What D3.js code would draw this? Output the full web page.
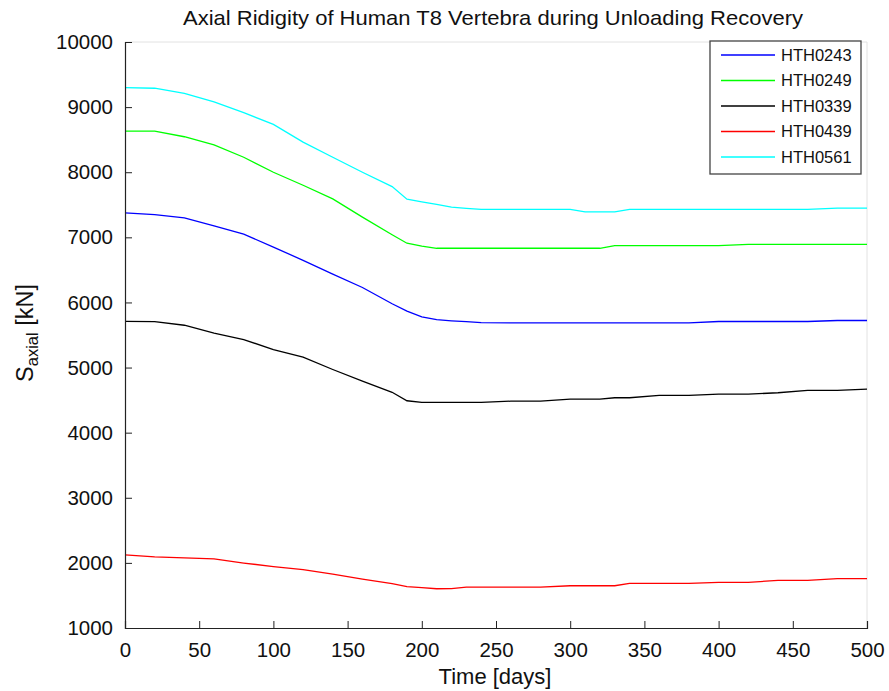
<!DOCTYPE html>
<html>
<head>
<meta charset="utf-8">
<script src="https://cdn.jsdelivr.net/npm/d3@7"></script>
<style>
  body { margin: 0; background: #fff; }
  svg { display: block; font-family: "Liberation Sans", Arial, sans-serif; }
</style>
</head>
<body>
<svg id="chart" width="889" height="691"></svg>
<script>
// sample days, shared by all specimens
const days = [0, 20, 40, 60, 80, 100, 120, 140, 160, 180, 190, 200, 210, 220, 230, 240,
              260, 280, 300, 310, 320, 330, 340, 360, 380, 400, 420, 440, 460, 480, 500];

const hth0243 = [7375, 7350, 7300, 7175, 7050, 6850, 6647, 6435, 6230, 5980, 5866, 5780, 5735, 5718, 5705, 5690,
                 5686, 5686, 5686, 5686, 5686, 5686, 5686, 5686, 5686, 5707, 5707, 5707, 5707, 5723, 5723];
const hth0249 = [8630, 8630, 8545, 8420, 8230, 8000, 7800, 7590, 7310, 7040, 6910, 6865, 6832, 6832, 6832, 6832,
                 6832, 6832, 6832, 6832, 6832, 6872, 6872, 6872, 6872, 6872, 6893, 6893, 6893, 6893, 6893];
const hth0339 = [5710, 5705, 5650, 5530, 5430, 5276, 5160, 4970, 4790, 4620, 4490, 4464, 4464, 4464, 4464, 4464,
                 4484, 4484, 4515, 4515, 4515, 4536, 4536, 4572, 4572, 4592, 4592, 4613, 4649, 4649, 4669];
const hth0439 = [2124, 2093, 2077, 2062, 1998, 1943, 1895, 1828, 1750, 1680, 1636, 1620, 1603, 1605, 1629, 1629,
                 1629, 1629, 1649, 1649, 1649, 1649, 1686, 1686, 1686, 1701, 1701, 1732, 1732, 1758, 1758];
const hth0561 = [9300, 9290, 9210, 9080, 8915, 8735, 8462, 8230, 8000, 7780, 7585, 7545, 7505, 7465, 7445, 7430,
                 7430, 7430, 7430, 7392, 7392, 7392, 7430, 7430, 7430, 7430, 7430, 7430, 7430, 7450, 7450];

const names = ["HTH0243", "HTH0249", "HTH0339", "HTH0439", "HTH0561"];
const colors = ["#0000ff", "#00ff00", "#000000", "#ff0000", "#00ffff"];
const xTicks = [0, 50, 100, 150, 200, 250, 300, 350, 400, 450, 500];
const yTicks = [1000, 2000, 3000, 4000, 5000, 6000, 7000, 8000, 9000, 10000];

const series = [hth0243, hth0249, hth0339, hth0439, hth0561].map((vals, i) => ({
    name: names[i],
    color: colors[i],
    points: days.map((d, j) => [d, vals[j]])
}));

const width = 889, height = 691;
const margin = { top: 42, right: 22, bottom: 63, left: 125 };

const svg = d3.select("#chart");

const x = d3.scaleLinear().domain([0, 500]).range([margin.left, width - margin.right]);
const y = d3.scaleLinear().domain([1000, 10000]).range([height - margin.bottom, margin.top]);

// faint top / right box edges
svg.append("path")
    .attr("d", `M${x(0)},${y(10000)}H${x(500)}V${y(1000)}`)
    .attr("fill", "none")
    .attr("stroke", "#e2e2e2");

const line = d3.line()
    .x(d => x(d[0]))
    .y(d => y(d[1]));

svg.append("g")
    .selectAll("path")
    .data(series)
    .join("path")
      .attr("fill", "none")
      .attr("stroke", d => d.color)
      .attr("stroke-width", 1.3)
      .attr("d", d => line(d.points));

// axes with inward ticks
const xAxis = svg.append("g")
    .attr("transform", `translate(0,${y(1000)})`)
    .call(d3.axisBottom(x).tickValues(xTicks).tickSize(-7).tickPadding(14).tickFormat(d3.format("d")));

const yAxis = svg.append("g")
    .attr("transform", `translate(${x(0)},0)`)
    .call(d3.axisLeft(y).tickValues(yTicks).tickSize(-7).tickPadding(12).tickFormat(d3.format("d")));

for (const ax of [xAxis, yAxis]) {
    ax.select(".domain").attr("stroke", "#222").attr("stroke-width", 1.2);
    ax.selectAll(".tick line").attr("stroke", "#222");
    ax.selectAll("text")
        .attr("font-family", "Liberation Sans, Arial, sans-serif")
        .attr("font-size", 20.5)
        .attr("fill", "#111");
}
xAxis.selectAll("text").attr("dy", "0.71em");

svg.append("text")
    .attr("x", 493)
    .attr("y", 25)
    .attr("text-anchor", "middle")
    .attr("font-size", 21)
    .attr("textLength", 620)
    .attr("lengthAdjust", "spacingAndGlyphs")
    .attr("fill", "#111")
    .text("Axial Ridigity of Human T8 Vertebra during Unloading Recovery");

svg.append("text")
    .attr("x", 495)
    .attr("y", 684)
    .attr("text-anchor", "middle")
    .attr("font-size", 22)
    .attr("fill", "#111")
    .text("Time [days]");

const ylab = svg.append("text")
    .attr("transform", "translate(33,333) rotate(-90)")
    .attr("text-anchor", "middle")
    .attr("font-size", 23.5)
    .attr("fill", "#111");
ylab.append("tspan").text("S");
ylab.append("tspan").attr("font-size", 16.5).attr("dy", 5).text("axial");
ylab.append("tspan").attr("dy", -5).text(" [kN]");

// legend
const legend = svg.append("g").attr("transform", "translate(710,41)");
legend.append("rect")
    .attr("width", 151)
    .attr("height", 133)
    .attr("fill", "#fff")
    .attr("stroke", "#444")
    .attr("stroke-width", 1.3);

const item = legend.selectAll("g.item")
    .data(series)
    .join("g")
      .attr("class", "item")
      .attr("transform", (d, i) => `translate(0,${14 + i * 25.5})`);

item.append("line")
    .attr("x1", 11).attr("x2", 65)
    .attr("stroke", d => d.color)
    .attr("stroke-width", 1.3);

item.append("text")
    .attr("x", 71)
    .attr("dy", "0.36em")
    .attr("font-size", 16.5)
    .attr("fill", "#111")
    .text(d => d.name);
</script>
</body>
</html>
